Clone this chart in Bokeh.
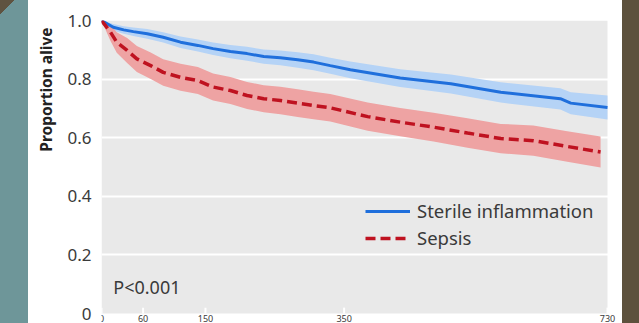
from bokeh.plotting import figure
from bokeh.models import (Range1d, FixedTicker, Label, Legend, LegendItem, Div,
                          BoxAnnotation, Title)
from bokeh.core.properties import value
from bokeh.layouts import row
from bokeh.embed import file_html
from bokeh.resources import INLINE

# Follow-up time (days) and survival estimates with 95% bands
sterile_days = [0, 17, 32, 46, 66, 89, 114, 139, 161, 186, 210, 234, 258, 283,
                306, 330, 359, 431, 504, 576, 662, 677, 730]
sterile_surv = [1.0, 0.977, 0.968, 0.962, 0.955, 0.943, 0.926, 0.915, 0.904, 0.894,
                0.887, 0.877, 0.873, 0.866, 0.858, 0.846, 0.832, 0.804, 0.784, 0.755,
                0.733, 0.718, 0.703]
sterile_lower = [1.0, 0.965, 0.955, 0.947, 0.938, 0.925, 0.906, 0.894, 0.882, 0.871,
                 0.863, 0.852, 0.847, 0.839, 0.830, 0.818, 0.803, 0.773, 0.751, 0.720,
                 0.696, 0.680, 0.662]
sterile_upper = [1.0, 0.988, 0.980, 0.976, 0.971, 0.960, 0.945, 0.935, 0.925, 0.916,
                 0.910, 0.901, 0.898, 0.892, 0.885, 0.873, 0.860, 0.834, 0.816, 0.789,
                 0.769, 0.755, 0.744]

sepsis_days = [0, 13, 22, 37, 51, 71, 89, 114, 139, 161, 186, 210, 234, 258, 283,
               306, 330, 384, 431, 479, 528, 576, 623, 672, 720]
sepsis_surv = [1.0, 0.960, 0.926, 0.898, 0.869, 0.846, 0.823, 0.806, 0.795, 0.773,
               0.761, 0.744, 0.733, 0.727, 0.718, 0.710, 0.702, 0.672, 0.653, 0.636,
               0.616, 0.597, 0.590, 0.570, 0.551]
sepsis_lower = [1.0, 0.930, 0.890, 0.855, 0.824, 0.800, 0.777, 0.760, 0.749, 0.727,
                0.715, 0.698, 0.687, 0.680, 0.671, 0.663, 0.655, 0.624, 0.605, 0.587,
                0.566, 0.547, 0.538, 0.518, 0.498]
sepsis_upper = [1.0, 0.985, 0.960, 0.940, 0.913, 0.891, 0.868, 0.852, 0.841, 0.819,
                0.807, 0.790, 0.779, 0.774, 0.765, 0.757, 0.749, 0.720, 0.701, 0.685,
                0.666, 0.647, 0.642, 0.622, 0.604]

x_ticks = [0, 60, 150, 350, 730]
x_tick_labels = ["0", "60", "150", "350", "730"]
y_ticks = [0, 0.2, 0.4, 0.6, 0.8, 1.0]
y_tick_labels = ["0", "0.2", "0.4", "0.6", "0.8", "1.0"]
grid_ticks = [0.2, 0.4, 0.6, 0.8]

FONT = "Noto Sans"
BLUE, BLUE_BAND = "#1f6fdc", "#b5d3f6"
RED, RED_BAND = "#bf1220", "#eea3a3"
TEXT = "#3a3a3a"
PANEL = "#e9e9e9"

X_MAX = 730
# the plotting frame runs a little past the shaded panel so that the
# day labels under it have room
p = figure(width=594, height=323, output_backend="svg", toolbar_location=None,
           x_range=Range1d(0, X_MAX * 521 / 506), y_range=Range1d(-10 / 293, 1.0),
           min_border_left=73, min_border_right=0, min_border_top=20,
           min_border_bottom=0)
p.background_fill_color = "white"
p.border_fill_color = "white"
p.outline_line_color = None

# shaded panel spanning the data area
p.add_layout(BoxAnnotation(left=0, right=X_MAX, bottom=0, top=1.0,
                           fill_color=PANEL, fill_alpha=1, line_color=None,
                           level="image"))

# confidence bands
p.varea(x=sterile_days, y1=sterile_lower, y2=sterile_upper, fill_color=BLUE_BAND)
p.varea(x=sepsis_days, y1=sepsis_lower, y2=sepsis_upper, fill_color=RED_BAND)

# survival curves
r_ster = p.line(sterile_days, sterile_surv, line_color=BLUE, line_width=3)
r_seps = p.line(sepsis_days, sepsis_surv, line_color=RED, line_width=3.5,
                line_dash="10 5")

# day ticks: short white marks rising from the bottom of the panel, labels below
p.segment(x0=x_ticks, y0=[0] * len(x_ticks), x1=x_ticks, y1=[0.02] * len(x_ticks),
          line_color="white", line_width=2)
p.text(x=x_ticks, y=[0] * len(x_ticks), text=x_tick_labels, y_offset=1,
       text_align="center", text_baseline="top", text_font=value(FONT),
       text_font_size="9px", text_color=TEXT)

# grid and axes
p.xaxis.visible = False
p.xgrid.visible = False
p.ygrid.grid_line_color = "white"
p.ygrid.grid_line_width = 2
p.ygrid.ticker = FixedTicker(ticks=grid_ticks)

ya = p.yaxis[0]
ya.ticker = FixedTicker(ticks=y_ticks)
ya.major_label_overrides = {t: s for t, s in zip(y_ticks, y_tick_labels)}
ya.axis_line_color = None
ya.major_tick_line_color = None
ya.minor_tick_line_color = None
ya.major_label_standoff = 4
ya.major_label_text_font = FONT
ya.major_label_text_font_size = "17px"
ya.major_label_text_color = TEXT

# y-axis title, set at the top of the left margin
p.add_layout(Title(text="Proportion alive", align="right", offset=7, standoff=12,
                   vertical_align="top", text_font=FONT, text_font_size="15.5px",
                   text_font_style="bold", text_color="#222222"), "left")

# p-value
p.add_layout(Label(x=17, y=0.092, text="P<0.001", text_baseline="middle",
                   text_font=FONT, text_font_size="18px", text_color=TEXT))

legend = Legend(items=[LegendItem(label="Sterile inflammation", renderers=[r_ster]),
                       LegendItem(label="Sepsis", renderers=[r_seps])],
                location=(264, 73), background_fill_alpha=0, border_line_color=None,
                padding=0, margin=0, spacing=2, glyph_width=45, glyph_height=20,
                label_height=20, label_standoff=7, label_text_font=FONT,
                label_text_font_size="18.5px", label_text_color=TEXT)
p.add_layout(legend)

left = Div(width=28, height=323, margin=0,
           styles={"background": "linear-gradient(135deg, #5f5340 10px, #6e9699 10px)",
                   "width": "28px", "height": "323px"})
right = Div(width=17, height=323, margin=0,
            styles={"background": "#5d513d", "width": "17px", "height": "323px"})
p.margin = 0
layout = row(left, p, right, spacing=0, margin=0)

open("out.html", "w").write(file_html(layout, INLINE))
